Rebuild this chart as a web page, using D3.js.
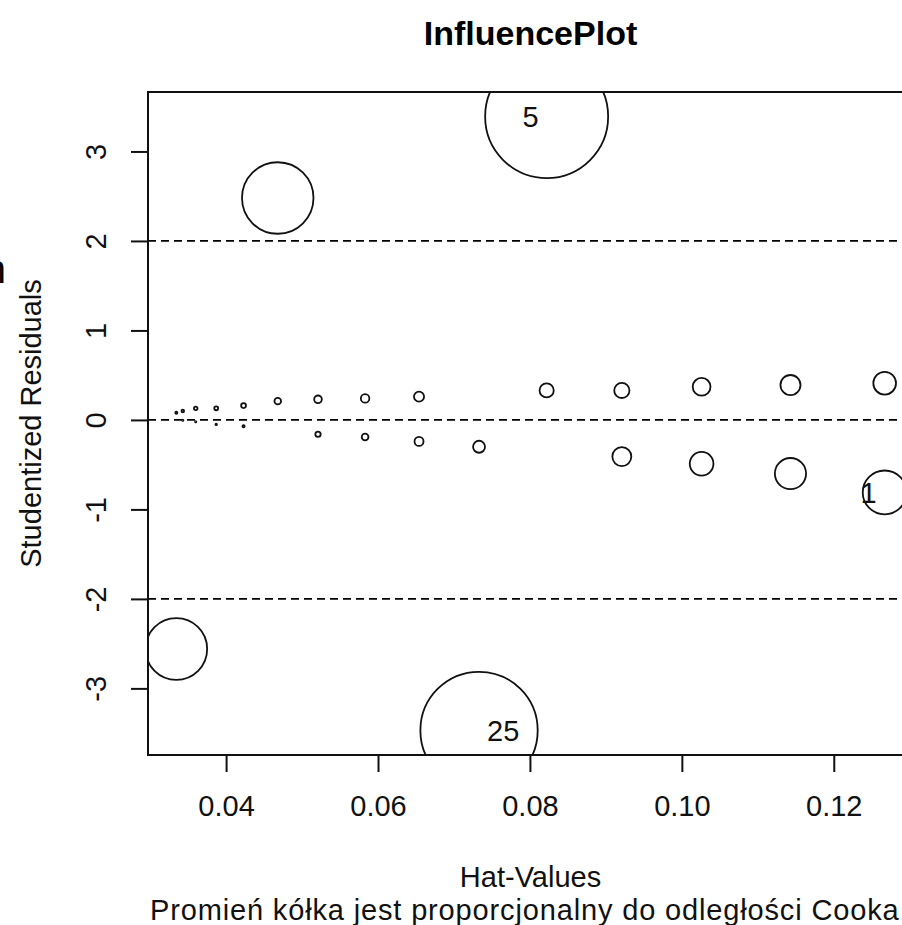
<!DOCTYPE html>
<html>
<head>
<meta charset="utf-8">
<script src="https://cdn.jsdelivr.net/npm/d3@7"></script>
<style>
  html, body { margin: 0; padding: 0; background: #fff; }
  svg { display: block; font-family: "Liberation Sans", Arial, sans-serif; }
</style>
</head>
<body>
<svg id="chart" width="902" height="925"></svg>
<script>
// Observations 1..30 of the regression model
const obsId = d3.range(1, 31);

// Hat-values (leverage) per observation
const hatValues = [
  0.1267, 0.1143, 0.1026, 0.0921, 0.0822, 0.0733, 0.0654, 0.0583, 0.0521, 0.0468,
  0.0423, 0.0387, 0.0360, 0.0343, 0.03345,
  0.03345, 0.0343, 0.0360, 0.0387, 0.0423, 0.0468, 0.0521, 0.0583, 0.0654, 0.0733,
  0.0822, 0.0921, 0.1026, 0.1143, 0.1267
];

// Studentized residuals per observation
const studRes = [
  -0.81, -0.60, -0.49, -0.41, 3.39, -0.30, -0.24, -0.19, -0.16, 2.48,
  -0.07, -0.05, -0.02, -0.005, -2.56,
  0.08, 0.10, 0.13, 0.13, 0.16, 0.21, 0.23, 0.24, 0.26, -3.47,
  0.33, 0.33, 0.37, 0.39, 0.41
];

// Cook's distance per observation (circle radius grows with it)
const cookDist = [
  0.0478, 0.0242, 0.0139, 0.00897, 0.376, 0.00357, 0.00202, 0.00113, 0.000702, 0.127,
  0.000119, 0.0000588, 0.0000050, 0.0000004, 0.0945,
  0.000109, 0.000170, 0.000308, 0.000376, 0.000586, 0.00110, 0.00147, 0.00182, 0.00253, 0.342,
  0.00499, 0.00575, 0.00789, 0.00998, 0.0128
];

// Observations that get an identifying label, and on which side
const labelledObs = [5, 25, 1];
const labelSide = ["left", "right", "left"];

const xTicks = [0.04, 0.06, 0.08, 0.10, 0.12];
const yTicks = [-3, -2, -1, 0, 1, 2, 3];
const refLines = [-2, 0, 2];

const titleText = "InfluencePlot";
const xLabel = "Hat-Values";
const subLabel = "Promień kółka jest proporcjonalny do odległości Cooka";
const yLabel = "Studentized Residuals";

const points = obsId.map((id, i) => ({ id, hat: hatValues[i], res: studRes[i], cook: cookDist[i] }));

// plot region
const plot = { left: 148, right: 913, top: 92, bottom: 755 };

function padded(ext) {
  const r = ext[1] - ext[0];
  return [ext[0] - 0.04 * r, ext[1] + 0.04 * r];
}

const x = d3.scaleLinear().domain(padded(d3.extent(hatValues))).range([plot.left, plot.right]);
const y = d3.scaleLinear().domain(padded(d3.extent(studRes))).range([plot.bottom, plot.top]);
const rad = d3.scaleSqrt().domain([0, d3.max(cookDist)]).range([0, 61.5]);

const svg = d3.select("#chart");
const fs = 29;

svg.append("defs").append("clipPath").attr("id", "plotClip")
  .append("rect")
  .attr("x", plot.left).attr("y", plot.top)
  .attr("width", plot.right - plot.left).attr("height", plot.bottom - plot.top);

const inner = svg.append("g").attr("clip-path", "url(#plotClip)");

// dashed reference lines
inner.selectAll("line.ref").data(refLines).join("line")
  .attr("class", "ref")
  .attr("x1", plot.left).attr("x2", plot.right)
  .attr("y1", d => y(d)).attr("y2", d => y(d))
  .attr("stroke", "#000").attr("stroke-width", 1.8)
  .attr("stroke-dasharray", "8,5");

// influence circles
inner.selectAll("circle.pt").data(points).join("circle")
  .attr("class", "pt")
  .attr("cx", d => x(d.hat)).attr("cy", d => y(d.res))
  .attr("r", d => Math.max(rad(d.cook), 0.6))
  .attr("fill", "none").attr("stroke", "#111").attr("stroke-width", 1.8);

// observation labels
const lab = labelledObs.map((id, i) => ({ p: points[id - 1], side: labelSide[i] }));
inner.selectAll("text.lab").data(lab).join("text")
  .attr("class", "lab")
  .attr("x", d => x(d.p.hat) + (d.side === "left" ? -8 : 8))
  .attr("y", d => y(d.p.res))
  .attr("dy", "0.36em")
  .attr("text-anchor", d => d.side === "left" ? "end" : "start")
  .attr("font-size", fs).attr("fill", "#111")
  .text(d => d.p.id);

// frame
svg.append("rect")
  .attr("x", plot.left).attr("y", plot.top)
  .attr("width", plot.right - plot.left).attr("height", plot.bottom - plot.top)
  .attr("fill", "none").attr("stroke", "#111").attr("stroke-width", 2);

// x axis
const xAxis = svg.append("g")
  .attr("transform", `translate(0,${plot.bottom})`)
  .call(d3.axisBottom(x).tickValues(xTicks).tickFormat(d3.format(".2f")).tickSize(17).tickPadding(23));
xAxis.select(".domain").remove();
xAxis.selectAll(".tick line").attr("stroke", "#111").attr("stroke-width", 2);
xAxis.selectAll(".tick text").attr("font-size", fs).attr("fill", "#111")
  .attr("font-family", "Liberation Sans, Arial, sans-serif");

// y axis (labels parallel to the axis, plain hyphen for negatives)
const yAxis = svg.append("g")
  .attr("transform", `translate(${plot.left},0)`)
  .call(d3.axisLeft(y).tickValues(yTicks).tickFormat(d => String(d)).tickSize(17));
yAxis.select(".domain").remove();
yAxis.selectAll(".tick line").attr("stroke", "#111").attr("stroke-width", 2);
yAxis.selectAll(".tick text")
  .attr("x", 0).attr("dy", null)
  .attr("text-anchor", "middle")
  .attr("transform", `translate(${106 - plot.left},0) rotate(-90)`)
  .attr("font-size", fs).attr("fill", "#111")
  .attr("font-family", "Liberation Sans, Arial, sans-serif");

// titles
const midX = (plot.left + plot.right) / 2;
svg.append("text").attr("x", midX).attr("y", 45)
  .attr("text-anchor", "middle").attr("font-weight", "bold").attr("font-size", 34).attr("fill", "#000")
  .text(titleText);
svg.append("text").attr("x", midX).attr("y", 887)
  .attr("text-anchor", "middle").attr("font-size", fs).attr("fill", "#111")
  .text(xLabel);
svg.append("text").attr("x", plot.left + 2).attr("y", 920)
  .attr("text-anchor", "start").attr("font-size", fs).attr("fill", "#111")
  .attr("letter-spacing", "0.85px")
  .text(subLabel);
svg.append("text")
  .attr("transform", `translate(41,${(plot.top + plot.bottom) / 2}) rotate(-90)`)
  .attr("text-anchor", "middle").attr("font-size", fs).attr("fill", "#111")
  .text(yLabel);

// edge of neighbouring text
svg.append("text").attr("x", 6).attr("y", 283)
  .attr("text-anchor", "end").attr("font-size", 40).attr("fill", "#000")
  .text("n");
</script>
</body>
</html>
